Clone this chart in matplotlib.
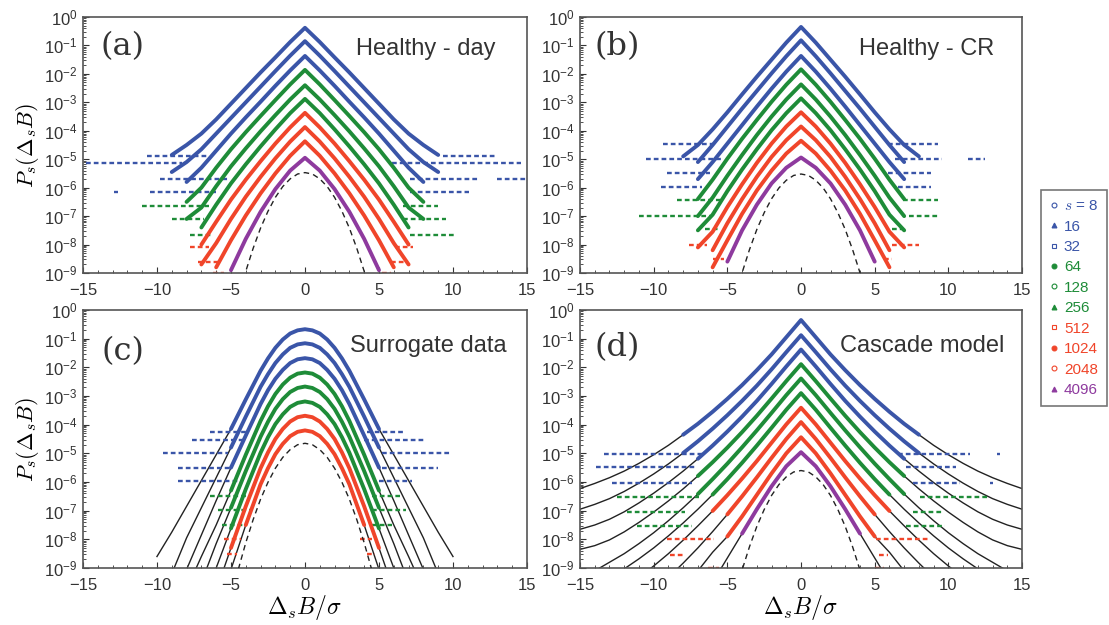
import matplotlib
matplotlib.use("Agg")
import matplotlib.pyplot as plt
import numpy as np
from matplotlib.lines import Line2D
from matplotlib.ticker import MultipleLocator, LogLocator, NullFormatter

plt.rcParams['font.family'] = ['Liberation Sans', 'DejaVu Sans']
plt.rcParams['mathtext.fontset'] = 'cm'

# scales and their styles
scales = [8, 16, 32, 64, 128, 256, 512, 1024, 2048, 4096]
colors = ['#3a55a8'] * 3 + ['#1e8c38'] * 3 + ['#f0452a'] * 3 + ['#8e3a9e']
markers = ['o', '^', 's', 'o', 'o', '^', 's', 'o', 'o', '^']
filled = [False, True, False, True, False, True, False, True, False, True]

# log10 P at |x| = 0, 1, 2, ... (symmetric)
a_x = [0, 1, 2, 3, 4, 5, 6, 7, 8, 9]
a_prof = [
    [-0.38, -0.88, -1.42, -1.95, -2.50, -3.05, -3.60, -4.10, -4.50, -4.85],
    [-0.85, -1.36, -1.90, -2.45, -3.00, -3.55, -4.10, -4.65, -5.10, -5.45],
    [-1.37, -1.88, -2.42, -2.98, -3.53, -4.10, -4.70, -5.30, -5.80],
    [-1.86, -2.37, -2.92, -3.48, -4.05, -4.65, -5.30, -6.00, -6.50],
    [-2.40, -2.90, -3.45, -4.02, -4.62, -5.25, -5.95, -6.70, -7.10],
    [-2.88, -3.38, -3.95, -4.55, -5.18, -5.85, -6.60, -7.40],
    [-3.37, -3.88, -4.45, -5.07, -5.72, -6.42, -7.20, -8.00],
    [-3.87, -4.38, -4.97, -5.62, -6.32, -7.10, -7.95, -8.70],
    [-4.37, -4.88, -5.50, -6.20, -6.98, -7.85, -8.80],
    [-4.95, -5.40, -6.05, -6.85, -7.80, -8.90],
]
# rows of single counts: (log10 P, x from, x to)
a_floor = [
    [(-4.9, -10.7, -6.6), (-4.9, 9.3, 12.9), (-5.15, -14.8, -8.3), (-5.15, 5.9, 14.6)],
    [(-5.7, -9.8, -5.2), (-5.7, 7.1, 11.8), (-5.7, 13.0, 14.9)],
    [(-6.15, -12.9, -12.6), (-6.15, -10.5, -6.0), (-6.15, 7.1, 11.1)],
    [(-6.65, -11.0, -6.5), (-6.65, 6.6, 9.0)],
    [(-7.1, -9.0, -6.8), (-7.1, 6.6, 9.5)],
    [(-7.65, -7.8, -6.3), (-7.65, 7.1, 10.2)],
    [(-8.1, -7.8, -6.5), (-8.1, 6.1, 7.3)],
    [(-8.6, -7.2, -5.8), (-8.6, 5.8, 6.8)],
    [(-9.0, -6.2, -5.5), (-9.0, 5.2, 5.8)],
    [],
]

b_x = [0, 1, 2, 3, 4, 5, 6, 7, 8]
b_prof = [
    [-0.35, -0.90, -1.50, -2.10, -2.72, -3.35, -3.95, -4.50, -4.90],
    [-0.82, -1.38, -1.98, -2.60, -3.22, -3.86, -4.50, -5.10],
    [-1.37, -1.92, -2.52, -3.15, -3.80, -4.45, -5.10, -5.70],
    [-1.84, -2.38, -2.98, -3.62, -4.28, -4.98, -5.72, -6.40],
    [-2.37, -2.90, -3.50, -4.15, -4.85, -5.58, -6.35, -7.00],
    [-2.86, -3.38, -3.98, -4.65, -5.36, -6.12, -6.95, -7.50],
    [-3.35, -3.85, -4.45, -5.13, -5.88, -6.68, -7.55, -8.10],
    [-3.85, -4.33, -4.92, -5.62, -6.40, -7.25, -8.20],
    [-4.35, -4.80, -5.40, -6.10, -6.92, -7.85, -8.80],
    [-4.94, -5.30, -5.85, -6.60, -7.50, -8.60],
]
b_floor = [
    [(-4.46, -9.4, -5.9), (-4.46, 5.9, 9.3), (-5.0, -10.5, -5.4), (-5.0, 6.4, 9.6), (-5.0, 11.3, 12.5)],
    [(-5.47, -9.1, -6.2), (-5.47, 5.9, 8.8)],
    [(-5.97, -9.5, -6.7), (-5.97, 6.6, 8.8)],
    [(-6.42, -8.4, -5.4), (-6.42, 6.9, 9.3)],
    [(-6.98, -11.0, -6.2), (-6.98, 7.3, 9.3)],
    [(-7.47, -6.5, -5.6), (-7.47, 6.2, 6.9)],
    [(-8.0, -7.6, -6.4), (-8.0, 6.2, 8.0)],
    [(-8.5, -6.0, -5.2), (-8.5, 5.6, 6.2)],
    [],
    [],
]

c_x = [0, 0.5, 1, 1.5, 2, 2.5, 3, 4, 5, 6, 7, 8, 9, 10]
c_prof = [
    [-0.67, -0.71, -0.82, -1.03, -1.32, -1.69, -2.12, -3.12, -4.15, -5.05, -5.95, -6.85, -7.75, -8.60],
    [-1.16, -1.20, -1.32, -1.55, -1.85, -2.24, -2.68, -3.72, -4.80, -5.85, -6.90, -7.95, -9.20, -10.4],
    [-1.68, -1.72, -1.85, -2.09, -2.40, -2.80, -3.28, -4.38, -5.50, -6.65, -7.85, -9.05, -10.2],
    [-2.18, -2.22, -2.36, -2.60, -2.93, -3.36, -3.87, -5.05, -6.30, -7.50, -8.60, -9.75],
    [-2.67, -2.72, -2.86, -3.11, -3.45, -3.90, -4.42, -5.62, -6.90, -8.15, -9.50],
    [-3.19, -3.24, -3.38, -3.64, -3.98, -4.44, -4.98, -6.25, -7.62, -9.00, -10.4],
    [-3.69, -3.74, -3.89, -4.15, -4.50, -4.97, -5.52, -6.85, -8.30, -9.80],
    [-4.20, -4.25, -4.40, -4.67, -5.03, -5.52, -6.08, -7.50, -9.05, -10.6],
]
c_xmax = [5, 5, 5, 5, 5, 5, 5, 4]
c_floor = [
    [(-4.24, -6.4, -3.9), (-4.24, 4.2, 6.6), (-4.53, -7.6, -4.0), (-4.53, 4.0, 8.1),
     (-5.0, -9.6, -5.2), (-5.0, 5.2, 9.8)],
    [(-5.52, -8.6, -4.9), (-5.52, 5.2, 9.0)],
    [(-5.98, -8.6, -4.5), (-5.98, 5.0, 7.2)],
    [(-6.48, -6.4, -3.7), (-6.48, 4.5, 6.4)],
    [(-6.97, -5.9, -3.7), (-6.97, 4.5, 6.8)],
    [(-7.49, -5.6, -4.0), (-7.49, 4.5, 5.9)],
    [(-7.99, -5.5, -4.3), (-7.99, 3.7, 4.5)],
    [(-8.5, -5.3, -4.6), (-8.5, 4.2, 4.7)],
]

d_x = list(range(16))
d_prof = [
    [-0.35, -0.95, -1.55, -2.10, -2.62, -3.10, -3.55, -3.97, -4.35, -4.72, -5.05, -5.35, -5.62, -5.85, -6.05, -6.23],
    [-0.88, -1.47, -2.07, -2.64, -3.17, -3.67, -4.14, -4.58, -4.99, -5.37, -5.72, -6.04, -6.33, -6.58, -6.78, -6.95],
    [-1.38, -1.97, -2.58, -3.17, -3.72, -4.24, -4.73, -5.19, -5.62, -6.02, -6.39, -6.73, -7.04, -7.30, -7.50, -7.65],
    [-1.89, -2.48, -3.09, -3.69, -4.26, -4.80, -5.31, -5.79, -6.24, -6.66, -7.05, -7.41, -7.74, -8.02, -8.22, -8.35],
    [-2.39, -2.97, -3.59, -4.20, -4.79, -5.36, -5.90, -6.42, -6.90, -7.35, -7.77, -8.15, -8.50, -8.80, -9.10],
    [-2.90, -3.48, -4.11, -4.73, -5.33, -5.90, -6.44, -6.95, -7.43, -7.88, -8.30, -8.68, -9.03],
    [-3.41, -3.99, -4.63, -5.27, -5.88, -6.46, -7.01, -7.53, -8.03, -8.50, -8.93, -9.33],
    [-3.91, -4.50, -5.16, -5.84, -6.50, -7.13, -7.73, -8.30, -8.83, -9.33],
    [-4.44, -5.00, -5.70, -6.45, -7.20, -7.90, -8.45, -9.10],
    [-4.96, -5.45, -6.15, -6.95, -7.80, -8.65, -9.50],
]
d_xmax = [8, 8, 7, 7, 7, 6, 6, 5, 5, 4]
d_floor = [
    [(-5.02, -13.4, -6.7), (-5.02, 6.6, 11.5), (-5.02, 13.3, 13.5)],
    [(-5.49, -13.9, -7.1), (-5.49, 7.1, 10.5)],
    [(-6.02, -12.8, -7.4), (-6.02, 7.6, 10.8), (-6.02, 12.8, 13.0)],
    [(-6.52, -12.5, -6.9), (-6.52, 8.1, 12.7)],
    [(-7.03, -11.8, -7.9), (-7.03, 7.6, 9.6)],
    [(-7.54, -11.1, -7.4), (-7.54, 7.1, 9.8)],
    [(-8.0, -9.1, -5.9), (-8.0, 5.1, 8.6)],
    [(-8.53, -8.9, -7.9), (-8.53, 5.3, 5.9)],
    [(-9.0, -6.3, -5.6), (-9.0, 5.0, 5.6)],
    [],
]

# dashed Gaussian reference
g_x = [0, 0.5, 1, 1.5, 2, 2.5, 3, 3.5, 4, 4.5]
a_gauss = [-5.47, -5.52, -5.69, -5.96, -6.34, -6.83, -7.42, -8.13, -8.94, -9.86]
b_gauss = [-5.52, -5.57, -5.74, -6.01, -6.39, -6.88, -7.47, -8.18, -8.99, -9.91]
c_gauss = [-4.65, -4.70, -4.87, -5.14, -5.52, -6.01, -6.60, -7.31, -8.12, -9.04]
d_gauss = [-5.60, -5.65, -5.82, -6.09, -6.47, -6.96, -7.55, -8.26, -9.07, -9.99]


def mirror(xs, ys):
    xs = list(xs)
    ys = list(ys)
    xx = [-v for v in xs[::-1]] + xs[1:]
    yy = ys[::-1] + ys[1:]
    return np.array(xx), 10.0 ** np.array(yy)


def panel(ax, x, prof, floors, gauss, tag, title, tag_xy, title_xy, xmax=None, fits=False):
    for i, p in enumerate(prof):
        n = len(p)
        if fits:
            fx, fy = mirror(x[:n], p)
            ax.plot(fx, fy, color='#222222', lw=1.0, zorder=1)
        if xmax is not None:
            n = len([v for v in x[:len(p)] if v <= xmax[i]])
        dx, dy = mirror(x[:n], p[:n])
        ax.plot(dx, dy, color=colors[i], lw=2.8, zorder=3, solid_capstyle='round')
        for lv, x1, x2 in floors[i]:
            ax.plot([x1, x2], [10.0 ** lv] * 2, color=colors[i], lw=1.7,
                    ls=(0, (2.0, 1.3)), zorder=2)
    gx, gy = mirror(g_x, gauss)
    ax.plot(gx, gy, color='#222222', lw=1.0, ls=(0, (4, 3)), zorder=4)

    ax.set_yscale('log')
    ax.set_xlim(-15, 15)
    ax.set_ylim(1e-9, 1)
    ax.set_xticks(range(-15, 16, 5))
    ax.xaxis.set_minor_locator(MultipleLocator(1))
    ax.set_yticks([10.0 ** -k for k in range(10)])
    ax.yaxis.set_minor_locator(LogLocator(base=10, subs=np.arange(2, 10), numticks=100))
    ax.yaxis.set_minor_formatter(NullFormatter())
    ax.tick_params(which='both', direction='in', labelsize=12, colors='#333333')
    ax.tick_params(which='major', length=4, width=0.8)
    ax.tick_params(which='minor', length=2, width=0.6)
    ax.tick_params(axis='x', which='major', pad=7)
    ax.tick_params(axis='y', which='major', pad=4)
    for s in ax.spines.values():
        s.set_color('#555555')
        s.set_linewidth(1.2)
    ax.text(tag_xy[0], tag_xy[1], tag, transform=ax.transAxes, fontsize=23,
            family='DejaVu Serif', color='#333333', va='center', ha='left')
    ax.text(title_xy[0], title_xy[1], title, transform=ax.transAxes, fontsize=17,
            color='#333333', va='center', ha='right')


fig = plt.figure(figsize=(11.09, 6.25), dpi=100)
ax_a = fig.add_axes([0.0748, 0.5632, 0.4004, 0.4096])
ax_b = fig.add_axes([0.5230, 0.5632, 0.3986, 0.4096])
ax_c = fig.add_axes([0.0748, 0.0912, 0.4004, 0.4128])
ax_d = fig.add_axes([0.5230, 0.0912, 0.3986, 0.4128])

panel(ax_a, a_x, a_prof, a_floor, a_gauss, '(a)', 'Healthy - day', (0.04, 0.885), (0.93, 0.876))
panel(ax_b, b_x, b_prof, b_floor, b_gauss, '(b)', 'Healthy - CR', (0.033, 0.885), (0.936, 0.876))
panel(ax_c, c_x, c_prof, c_floor, c_gauss, '(c)', 'Surrogate data', (0.042, 0.84), (0.955, 0.86),
      xmax=c_xmax, fits=True)
panel(ax_d, d_x, d_prof, d_floor, d_gauss, '(d)', 'Cascade model', (0.033, 0.855), (0.959, 0.86),
      xmax=d_xmax, fits=True)

for ax in (ax_a, ax_c):
    ax.set_ylabel(r'$P_s(\Delta_s B)$', fontsize=16, labelpad=2)
for ax in (ax_c, ax_d):
    ax.set_xlabel(r'$\Delta_s B/\sigma$', fontsize=17, labelpad=0)

# legend
handles = [Line2D([], [], ls='none', marker=markers[i], ms=3.5, color=colors[i],
                  mfc=colors[i] if filled[i] else 'white', mew=0.8) for i in range(10)]
labels = ['$s$ = 8'] + [str(s) for s in scales[1:]]
leg = fig.legend(handles, labels, loc='upper left', bbox_to_anchor=(1041 / 1109, 1 - 190 / 625),
                 frameon=True, fancybox=False, edgecolor='#555555', fontsize=11,
                 handlelength=0.5, handletextpad=0.4, labelspacing=0.42, borderpad=0.6,
                 borderaxespad=0, labelcolor=colors)
leg.get_frame().set_linewidth(1.2)

fig.savefig('out.png', dpi=100)
